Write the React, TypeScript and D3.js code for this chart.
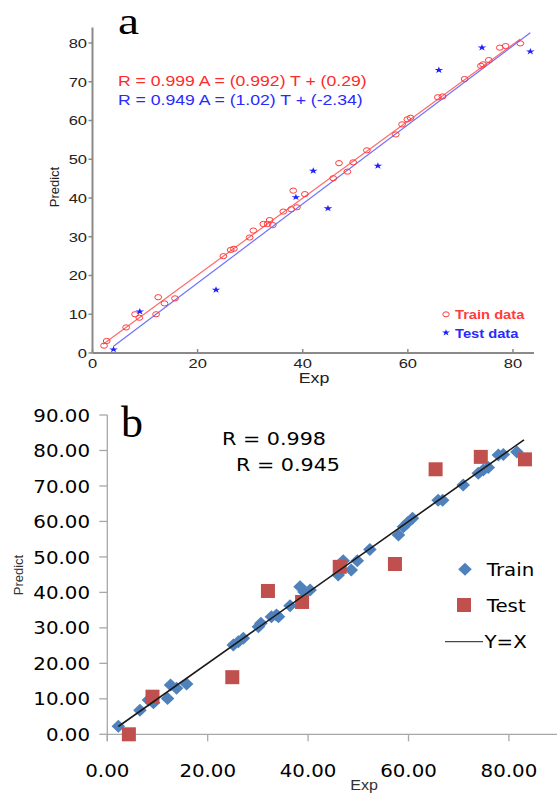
import React from 'react';
import * as d3 from 'd3';

// panel a: training / test points (Exp, Predict)
const trainAx = [2.2, 2.7, 6.4, 8.1, 8.9, 12.1, 12.5, 13.7, 15.7, 24.9, 26.3, 26.9, 29.9, 30.6, 32.5, 33.3, 33.7, 34.3, 36.3, 37.8, 38.9, 38.2, 40.4, 45.8, 46.9, 48.5, 49.6, 52.2, 57.7, 58.9, 59.9, 60.5, 65.7, 66.6, 70.8, 73.9, 74.3, 75.4, 77.5, 78.6, 81.4];
const trainAy = [1.9, 3.1, 6.6, 10, 9.1, 10, 14.4, 12.8, 14.1, 25, 26.6, 26.9, 29.8, 31.6, 33.3, 33.3, 34.3, 33, 36.5, 37.1, 37.6, 41.9, 41, 45.1, 49, 46.8, 49.2, 52.3, 56.4, 59, 60.3, 60.7, 66, 66.2, 70.7, 74.1, 74.5, 75.6, 78.8, 79.2, 79.9];
const testAx = [4.0, 9.0, 23.5, 38.7, 42, 44.8, 54.3, 65.9, 74.1, 83.3];
const testAy = [0.9, 10.7, 16.3, 40.2, 47, 37.3, 48.3, 73, 78.8, 77.8];
const fitA = [
  { slope: 0.992, icpt: 0.29, from: 2, to: 81.4, color: '#ff6a6a' },
  { slope: 1.02, icpt: -2.34, from: 4, to: 83.3, color: '#7070ff' },
];
const ticksA = [0, 10, 20, 30, 40, 50, 60, 70, 80];
const xTicksA = [0, 20, 40, 60, 80];

// panel b
const trainBx = [2.2, 6.5, 8.2, 9.2, 12.0, 12.6, 13.8, 15.8, 25.1, 26.1, 27.1, 30.1, 30.6, 32.7, 33.7, 34.1, 36.4, 38.4, 40.4, 39.2, 46, 47, 48.6, 49.8, 52.3, 58, 59, 59.8, 60.8, 65.9, 66.8, 70.9, 73.9, 74.9, 75.9, 77.9, 78.9, 81.6];
const trainBy = [2.3, 6.8, 9.7, 8.9, 10.1, 13.9, 13, 14.2, 25.2, 26.1, 27.1, 30.3, 31.3, 33.1, 33.6, 33.1, 36.2, 41.6, 40.7, 40.1, 44.9, 48.9, 46.3, 48.9, 52.1, 56.2, 58.5, 59.6, 60.9, 66, 66, 70.3, 73.6, 74.5, 75.2, 78.7, 78.9, 79.6];
const testBx = [4.3, 9.0, 24.9, 32, 38.8, 46.3, 57.3, 65.4, 74.4, 83.2];
const testBy = [0, 10.6, 16.1, 40.4, 37.3, 47.2, 48, 74.7, 78.2, 77.5];
const yxRange = [2.2, 83];
const ticksB = [0, 10, 20, 30, 40, 50, 60, 70, 80, 90];
const xTicksB = [0, 20, 40, 60, 80];

const W = 557, H = 798;

// text squeezed/stretched horizontally like the source image
const ST = ({ x, y, sx = 1, anchor = 'start', size, family, weight = 'normal', fill = '#000', children }: any) => (
  <text transform={`translate(${x},${y}) scale(${sx},1)`} textAnchor={anchor}
    fontSize={size} fontFamily={family} fontWeight={weight} fill={fill}>{children}</text>
);

const ARIAL = "'Liberation Sans', Arial, sans-serif";
const DEJA = "'DejaVu Sans', Verdana, sans-serif";
const SERIF = "'Liberation Serif', 'Times New Roman', serif";

const App = () => {
  // a scales
  const xA = d3.scaleLinear().domain([0, 84]).range([92.5, 534]);
  const yA = d3.scaleLinear().domain([0, 84]).range([353, 27.5]);
  // b scales
  const xB = d3.scaleLinear().domain([0, 90]).range([107.3, 559.1]);
  const yB = d3.scaleLinear().domain([0, 90]).range([734.3, 415]);

  const star = d3.symbol().type(d3.symbolStar).size(14)();
  const fmtB = d3.format('.2f');
  const diamond = (cx: number, cy: number) =>
    `M${cx},${cy - 6.5}L${cx + 6.8},${cy}L${cx},${cy + 6.5}L${cx - 6.8},${cy}Z`;
  const lineB = d3.line<number>().x(d => xB(d)).y(d => yB(d));

  return (
    <svg width={W} height={H} style={{ position: 'absolute', left: 0, top: 0, background: '#fff' }}>
      {/* ---------- panel a ---------- */}
      <ST x={118} y={34} sx={1.25} size={38} family={SERIF}>a</ST>
      <line x1={xA(0)} x2={xA(84)} y1={yA(0)} y2={yA(0)} stroke="#8a8a8a" strokeWidth={2} />
      <line x1={xA(0)} x2={xA(0)} y1={yA(0)} y2={yA(84)} stroke="#8a8a8a" strokeWidth={2} />
      {ticksA.map(t => (
        <g key={'ya' + t}>
          <line x1={xA(0) - 4} x2={xA(0)} y1={yA(t)} y2={yA(t)} stroke="#8a8a8a" strokeWidth={1.5} />
          <ST x={87} y={yA(t) + 4.8} sx={1.27} anchor="end" size={13} family={ARIAL} fill="#222">{t}</ST>
        </g>
      ))}
      {xTicksA.map(t => (
        <g key={'xa' + t}>
          <line x1={xA(t)} x2={xA(t)} y1={yA(0)} y2={yA(0) - 4} stroke="#8a8a8a" strokeWidth={1.5} />
          <ST x={xA(t)} y={368} sx={1.27} anchor="middle" size={13} family={ARIAL} fill="#222">{t}</ST>
        </g>
      ))}
      <text transform="translate(59,187) rotate(-90)" textAnchor="middle" fontSize={13} fontFamily={ARIAL} fill="#222">Predict</text>
      <ST x={314} y={383} sx={1.27} anchor="middle" size={14} family={ARIAL} fill="#222">Exp</ST>

      {fitA.map((f, i) => (
        <line key={'fit' + i} x1={xA(f.from)} y1={yA(f.slope * f.from + f.icpt)}
          x2={xA(f.to)} y2={yA(f.slope * f.to + f.icpt)} stroke={f.color} strokeWidth={1.2} />
      ))}
      {trainAx.map((v, i) => (
        <ellipse key={'ta' + i} cx={xA(v)} cy={yA(trainAy[i])} rx={3.4} ry={2.6}
          fill="none" stroke="#ff3b3b" strokeWidth={1} />
      ))}
      {testAx.map((v, i) => (
        <path key={'sa' + i} d={star} transform={`translate(${xA(v)},${yA(testAy[i])}) scale(1.3,1)`} fill="#1f1fff" />
      ))}

      <ST x={118} y={86} sx={1.26} size={14} family={ARIAL} fill="#ff2a2a">R = 0.999 A = (0.992) T + (0.29)</ST>
      <ST x={118} y={105} sx={1.26} size={14} family={ARIAL} fill="#2a2aff">R = 0.949 A = (1.02) T + (-2.34)</ST>

      <ellipse cx={446} cy={314.3} rx={3.2} ry={2.5} fill="none" stroke="#ff3b3b" strokeWidth={1} />
      <ST x={455} y={319} sx={1.13} size={13} weight="bold" family={ARIAL} fill="#ff3b3b">Train data</ST>
      <path d={star} transform="translate(446,332.7) scale(1.2,1)" fill="#1f1fff" />
      <ST x={455} y={337.5} sx={1.13} size={13} weight="bold" family={ARIAL} fill="#2a2aff">Test data</ST>

      {/* ---------- panel b ---------- */}
      <text x={121} y={437} fontSize={44} fontFamily={SERIF}>b</text>
      <line x1={xB(0)} x2={W} y1={yB(0)} y2={yB(0)} stroke="#a8a8a8" strokeWidth={1.3} />
      <line x1={xB(0)} x2={xB(0)} y1={yB(0) + 7} y2={yB(90)} stroke="#a8a8a8" strokeWidth={1.3} />
      {ticksB.map(t => (
        <g key={'yb' + t}>
          <line x1={xB(0) - 8} x2={xB(0)} y1={yB(t)} y2={yB(t)} stroke="#a8a8a8" strokeWidth={1.3} />
          <ST x={90} y={yB(t) + 6.6} sx={1.1} anchor="end" size={18} family={DEJA}>{fmtB(t)}</ST>
        </g>
      ))}
      {xTicksB.map(t => (
        <g key={'xb' + t}>
          <line x1={xB(t)} x2={xB(t)} y1={yB(0)} y2={yB(0) + 7} stroke="#a8a8a8" strokeWidth={1.3} />
          <ST x={xB(t)} y={776.5} sx={1.1} anchor="middle" size={18} family={DEJA}>{fmtB(t)}</ST>
        </g>
      ))}
      <text transform="translate(23,575) rotate(-90)" textAnchor="middle" fontSize={13} fontFamily={ARIAL} fill="#333">Predict</text>
      <ST x={364} y={790} sx={1.15} anchor="middle" size={14} family={ARIAL} fill="#333">Exp</ST>

      {trainBx.map((v, i) => (
        <path key={'db' + i} d={diamond(xB(v), yB(trainBy[i]))} fill="#4f81bd" />
      ))}
      {testBx.map((v, i) => (
        <rect key={'qb' + i} x={xB(v) - 7} y={yB(testBy[i]) - 7} width={14} height={14} fill="#c0504d" />
      ))}
      <path d={lineB(yxRange) || ''} stroke="#1a1a1a" strokeWidth={1.6} fill="none" />

      <ST x={222} y={444.5} sx={1.15} size={18} family={DEJA}>R = 0.998</ST>
      <ST x={236} y={471} sx={1.15} size={18} family={DEJA}>R = 0.945</ST>

      <path d={diamond(465, 569.3)} fill="#4f81bd" />
      <ST x={486.7} y={576} sx={1.1} size={18} family={DEJA}>Train</ST>
      <rect x={457} y={598} width={14} height={14} fill="#c0504d" />
      <ST x={486.7} y={611.5} sx={1.1} size={18} family={DEJA}>Test</ST>
      <line x1={445} x2={483} y1={641.7} y2={641.7} stroke="#1a1a1a" strokeWidth={1} />
      <ST x={484.5} y={648} sx={1.1} size={18} family={DEJA}>Y=X</ST>
    </svg>
  );
};

export default App;
